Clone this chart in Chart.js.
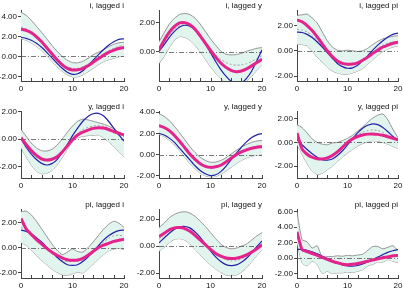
<!DOCTYPE html>
<html>
<head>
<meta charset="utf-8">
<script src="https://cdn.jsdelivr.net/npm/chart.js@4/dist/chart.umd.min.js"></script>
<style>
  html, body { margin: 0; padding: 0; background: #fff; overflow: hidden; }
  body { width: 403px; height: 295px; position: relative; }
  canvas { position: absolute; }
</style>
</head>
<body>
<script>
const LAGS = [0, 1, 2, 3, 4, 5, 6, 7, 8, 9, 10, 11, 12, 13, 14, 15, 16, 17, 18, 19, 20];

const TITLES = ['i, lagged i', 'i, lagged y', 'i, lagged pi',
                'y, lagged i', 'y, lagged y', 'y, lagged pi',
                'pi, lagged i', 'pi, lagged y', 'pi, lagged pi'];
const Y_MIN = [-2.47, -1.98, -2.39, -2.85, -2.2, -3.0, -2.4, -2.37, -2.57];
const Y_MAX = [4.63, 2.86, 3.23, 2.05, 4.1, 2.65, 3.07, 2.75, 6.35];

// thick magenta line
const MAGENTA = [
  [2.7, 2.6, 2.35, 1.95, 1.45, 0.85, 0.25, -0.35, -0.85, -1.2, -1.37, -1.35, -1.2, -0.95, -0.6, -0.25, 0.1, 0.4, 0.6, 0.78, 0.87],
  [0.15, 0.8, 1.35, 1.75, 1.98, 2.0, 1.85, 1.55, 1.1, 0.6, 0.1, -0.35, -0.75, -1.05, -1.25, -1.35, -1.3, -1.15, -0.95, -0.72, -0.5],
  [2.45, 2.3, 2.0, 1.6, 1.1, 0.55, 0.0, -0.45, -0.8, -1.0, -1.07, -1.05, -0.95, -0.75, -0.5, -0.2, 0.05, 0.3, 0.45, 0.6, 0.68],
  [0.1, -0.4, -0.85, -1.2, -1.45, -1.54, -1.48, -1.3, -0.95, -0.5, -0.05, 0.3, 0.5, 0.65, 0.78, 0.83, 0.8, 0.7, 0.55, 0.42, 0.3],
  [2.72, 2.55, 2.25, 1.8, 1.25, 0.65, 0.05, -0.45, -0.85, -1.1, -1.2, -1.15, -1.0, -0.7, -0.35, 0.0, 0.25, 0.45, 0.6, 0.7, 0.75],
  [0.8, -0.55, -1.0, -1.25, -1.38, -1.4, -1.3, -1.1, -0.8, -0.4, 0.0, 0.3, 0.5, 0.62, 0.7, 0.72, 0.68, 0.6, 0.48, 0.35, 0.23],
  [2.32, 1.5, 1.05, 0.65, 0.3, -0.05, -0.35, -0.6, -0.8, -0.95, -1.0, -0.98, -0.85, -0.6, -0.3, 0.0, 0.2, 0.35, 0.5, 0.6, 0.67],
  [0.7, 0.95, 1.2, 1.35, 1.37, 1.3, 1.1, 0.8, 0.45, 0.1, -0.25, -0.55, -0.75, -0.88, -0.92, -0.9, -0.8, -0.65, -0.45, -0.2, 0.08],
  [3.4, 1.1, 0.85, 0.6, 0.35, 0.1, -0.15, -0.4, -0.6, -0.78, -0.85, -0.8, -0.7, -0.55, -0.4, -0.25, -0.1, 0.05, 0.15, 0.3, 0.35]
];

// thin blue line
const BLUE = [
  [1.9, 1.8, 1.6, 1.3, 0.9, 0.4, -0.15, -0.7, -1.2, -1.6, -1.8, -1.75, -1.45, -0.95, -0.4, 0.15, 0.65, 1.1, 1.45, 1.7, 1.75],
  [0.05, 0.5, 1.0, 1.4, 1.7, 1.82, 1.75, 1.5, 1.1, 0.55, -0.05, -0.65, -1.2, -1.65, -2.0, -2.15, -2.1, -1.8, -1.3, -0.6, 0.15],
  [1.48, 1.45, 1.3, 1.05, 0.7, 0.3, -0.15, -0.6, -1.0, -1.25, -1.38, -1.35, -1.15, -0.8, -0.4, 0.05, 0.45, 0.8, 1.1, 1.3, 1.4],
  [0.0, -0.6, -1.1, -1.5, -1.78, -1.9, -1.8, -1.5, -1.0, -0.4, 0.25, 0.8, 1.3, 1.65, 1.85, 1.88, 1.7, 1.3, 0.8, 0.3, -0.15],
  [2.0, 1.85, 1.55, 1.15, 0.6, 0.05, -0.5, -1.05, -1.5, -1.8, -1.97, -1.9, -1.6, -1.1, -0.5, 0.1, 0.7, 1.2, 1.6, 1.85, 1.97],
  [0.23, -0.2, -0.6, -0.95, -1.25, -1.45, -1.5, -1.4, -1.1, -0.7, -0.2, 0.3, 0.8, 1.2, 1.45, 1.57, 1.5, 1.25, 0.9, 0.5, 0.15],
  [1.4, 1.3, 1.1, 0.8, 0.45, 0.05, -0.35, -0.75, -1.1, -1.35, -1.4, -1.35, -1.1, -0.75, -0.3, 0.15, 0.6, 0.95, 1.2, 1.35, 1.4],
  [0.25, 0.6, 0.95, 1.25, 1.42, 1.45, 1.35, 1.05, 0.65, 0.15, -0.35, -0.8, -1.15, -1.38, -1.45, -1.4, -1.2, -0.9, -0.5, -0.05, 0.38],
  [1.13, 1.13, 1.0, 0.8, 0.55, 0.25, -0.05, -0.35, -0.65, -0.88, -1.0, -1.05, -0.95, -0.75, -0.5, -0.2, 0.15, 0.45, 0.75, 0.95, 1.1]
];

// dashed median of the band
const MEDIAN = [
  [2.9, 2.75, 2.5, 2.1, 1.6, 1.0, 0.4, -0.2, -0.7, -1.05, -1.2, -1.2, -1.05, -0.8, -0.45, -0.1, 0.25, 0.55, 0.8, 1.0, 1.1],
  [0.0, 0.6, 1.15, 1.55, 1.8, 1.85, 1.75, 1.5, 1.1, 0.65, 0.2, -0.2, -0.5, -0.72, -0.85, -0.9, -0.88, -0.8, -0.65, -0.45, -0.25],
  [1.7, 1.65, 1.5, 1.2, 0.8, 0.35, -0.1, -0.5, -0.85, -1.05, -1.1, -1.05, -0.95, -0.7, -0.4, -0.1, 0.2, 0.45, 0.6, 0.7, 0.75],
  [0.05, -0.5, -1.0, -1.35, -1.55, -1.6, -1.5, -1.25, -0.9, -0.45, 0.0, 0.4, 0.7, 0.85, 0.95, 1.0, 0.95, 0.8, 0.6, 0.35, 0.15],
  [2.85, 2.65, 2.3, 1.85, 1.3, 0.7, 0.1, -0.4, -0.8, -1.05, -1.15, -1.1, -0.95, -0.65, -0.3, 0.05, 0.35, 0.55, 0.7, 0.8, 0.85],
  [0.6, -0.6, -1.1, -1.3, -1.4, -1.4, -1.3, -1.05, -0.75, -0.35, 0.05, 0.4, 0.65, 0.85, 1.0, 1.05, 1.0, 0.85, 0.6, 0.35, 0.15],
  [1.6, 1.4, 1.05, 0.7, 0.3, -0.1, -0.45, -0.75, -1.0, -1.1, -1.05, -1.1, -1.0, -0.7, -0.3, 0.1, 0.45, 0.75, 0.95, 1.0, 0.9],
  [0.5, 0.85, 1.15, 1.35, 1.45, 1.45, 1.3, 1.0, 0.6, 0.2, -0.2, -0.55, -0.85, -1.0, -1.1, -1.1, -0.95, -0.75, -0.45, -0.15, 0.2],
  [3.0, 0.9, 0.7, 0.5, 0.3, 0.0, -0.3, -0.5, -0.7, -0.85, -0.9, -0.85, -0.7, -0.55, -0.35, -0.2, 0.0, 0.15, 0.3, 0.4, 0.35]
];

// band upper / lower
const UPPER = [
  [4.4, 4.1, 3.6, 3.0, 2.4, 1.75, 1.1, 0.5, 0.0, -0.4, -0.63, -0.65, -0.5, -0.2, 0.15, 0.4, 0.65, 0.95, 1.2, 1.35, 1.4],
  [0.7, 1.3, 1.9, 2.3, 2.55, 2.62, 2.55, 2.3, 1.9, 1.4, 0.9, 0.45, 0.05, -0.15, -0.2, -0.18, -0.1, 0.05, 0.15, 0.25, 0.3],
  [2.8, 2.85, 2.9, 2.6, 2.2, 1.5, 0.8, 0.3, 0.05, 0.0, 0.05, 0.0, -0.05, 0.0, 0.2, 0.5, 0.75, 0.95, 1.05, 1.15, 1.2],
  [0.7, 0.2, -0.3, -0.65, -0.85, -0.88, -0.75, -0.45, 0.0, 0.5, 0.95, 1.3, 1.45, 1.4, 1.3, 1.2, 1.1, 0.95, 0.75, 0.5, 0.3],
  [3.85, 3.6, 3.2, 2.65, 2.05, 1.4, 0.75, 0.2, -0.25, -0.55, -0.72, -0.7, -0.55, -0.3, 0.05, 0.4, 0.7, 0.95, 1.15, 1.28, 1.34],
  [1.5, 1.25, 0.8, 0.3, 0.0, -0.15, -0.2, -0.05, 0.0, 0.15, 0.35, 0.6, 0.95, 1.3, 1.7, 2.05, 2.3, 2.4, 1.9, 1.1, 0.4],
  [2.85, 2.9, 2.6, 2.1, 1.5, 0.9, 0.3, -0.2, -0.55, -0.35, -0.1, -0.3, -0.35, 0.0, 0.45, 0.95, 1.45, 1.85, 2.1, 1.95, 1.6],
  [1.37, 1.7, 2.1, 2.35, 2.5, 2.55, 2.45, 2.2, 1.85, 1.45, 1.0, 0.55, 0.15, -0.1, -0.2, -0.15, 0.0, 0.15, 0.45, 0.75, 1.0],
  [6.0, 2.4, 2.1, 1.3, 1.6, 0.1, 0.2, 0.2, 0.3, 0.25, 0.35, 0.3, 0.4, 0.5, 1.0, 1.5, 1.5, 1.2, 1.4, 1.6, 1.0]
];
const LOWER = [
  [1.75, 1.6, 1.35, 1.0, 0.55, 0.05, -0.5, -1.05, -1.5, -1.85, -2.05, -2.05, -1.85, -1.55, -1.2, -0.85, -0.55, -0.35, -0.2, -0.05, 0.0],
  [-0.8, -0.3, 0.3, 0.8, 1.05, 1.0, 0.8, 0.45, 0.0, -0.5, -1.0, -1.45, -1.8, -2.1, -2.3, -2.35, -2.25, -2.0, -1.65, -1.25, -0.9],
  [0.5, 0.5, 0.4, 0.0, -0.5, -0.9, -1.3, -1.6, -1.75, -1.85, -1.85, -1.75, -1.6, -1.4, -1.05, -0.7, -0.35, -0.05, 0.15, 0.3, 0.4],
  [-0.63, -1.3, -1.9, -2.35, -2.54, -2.5, -2.3, -1.9, -1.35, -0.75, -0.2, 0.1, 0.2, 0.25, 0.28, 0.3, 0.1, -0.2, -0.55, -0.95, -1.3],
  [1.9, 1.7, 1.35, 0.9, 0.35, -0.25, -0.85, -1.35, -1.75, -2.0, -2.1, -2.05, -1.85, -1.55, -1.2, -0.85, -0.55, -0.3, -0.15, -0.05, 0.0],
  [-0.2, -1.0, -1.8, -2.4, -2.7, -2.6, -2.3, -2.0, -1.6, -1.25, -0.9, -0.6, -0.3, -0.1, 0.05, 0.15, 0.1, 0.0, -0.15, -0.35, -0.5],
  [0.4, 0.2, -0.2, -0.6, -1.0, -1.35, -1.7, -1.95, -2.15, -2.2, -2.05, -1.95, -2.0, -1.7, -1.3, -0.9, -0.55, -0.25, -0.1, -0.05, -0.13],
  [-0.38, -0.1, 0.25, 0.5, 0.55, 0.45, 0.15, -0.25, -0.65, -1.05, -1.4, -1.7, -1.95, -2.15, -2.2, -2.15, -1.95, -1.6, -1.15, -0.7, -0.25],
  [2.0, -0.6, -1.0, -0.4, -0.8, -2.0, -1.7, -2.0, -1.9, -1.9, -1.8, -1.85, -1.7, -1.5, -1.0, -0.8, -0.5, -0.5, -0.2, -0.4, -0.6]
];

// plot-area edges of each cell (px)
const COL_L = [21, 159, 297], COL_R = [124, 262, 398];
const ROW_T = [10, 111, 209], ROW_B = [81, 178, 278];
const Y_AXIS_W = 22, TOP_PAD = 10, X_AXIS_H = 14, RIGHT_PAD = 8;

Chart.defaults.font.family = '"Liberation Sans", Arial, sans-serif';
Chart.defaults.font.size = 8;
Chart.defaults.color = '#111';

const decor = {
  id: 'decor',
  afterDatasetDraw(chart, args) {
    if (args.index !== 3) return;
    // dash-dot zero line, above the band fill
    const {ctx, chartArea: a, scales: {y}} = chart;
    const py = Math.round(y.getPixelForValue(0)) + 0.5;
    ctx.save();
    ctx.strokeStyle = '#555';
    ctx.lineWidth = 0.8;
    ctx.setLineDash([5, 2, 1, 2]);
    ctx.beginPath();
    ctx.moveTo(a.left, py);
    ctx.lineTo(a.right, py);
    ctx.stroke();
    ctx.restore();
  },
  afterDraw(chart) {
    const {ctx, chartArea: a, scales: {x}} = chart;
    ctx.save();
    // minor ticks on the bottom axis, pointing inward
    ctx.strokeStyle = '#444';
    ctx.lineWidth = 1;
    ctx.beginPath();
    for (let v = 0; v <= 20; v += 2) {
      const px = Math.round(x.getPixelForValue(v)) + 0.5;
      ctx.moveTo(px, a.bottom);
      ctx.lineTo(px, a.bottom - 3);
    }
    ctx.stroke();
    // title, top right
    ctx.fillStyle = '#111';
    ctx.font = '8px "Liberation Sans", Arial, sans-serif';
    ctx.textAlign = 'right';
    ctx.textBaseline = 'alphabetic';
    ctx.fillText(chart.options.plugins.decor.title, a.right, a.top - 2);
    ctx.restore();
  }
};

for (let p = 0; p < 9; p++) {
  const c = p % 3, r = Math.floor(p / 3);
  const w = COL_R[c] - COL_L[c] + Y_AXIS_W + RIGHT_PAD;
  const h = ROW_B[r] - ROW_T[r] + TOP_PAD + X_AXIS_H;
  const cv = document.createElement('canvas');
  cv.width = w; cv.height = h;
  cv.style.left = (COL_L[c] - Y_AXIS_W) + 'px';
  cv.style.top = (ROW_T[r] - TOP_PAD) + 'px';
  cv.style.width = w + 'px'; cv.style.height = h + 'px';
  document.body.appendChild(cv);

  new Chart(cv, {
    type: 'line',
    data: {
      labels: LAGS,
      datasets: [
        { data: MAGENTA[p], borderColor: '#e4238c', borderWidth: 3 },
        { data: BLUE[p], borderColor: '#2222a8', borderWidth: 1.2 },
        { data: MEDIAN[p], borderColor: '#8a8a8a', borderWidth: 0.8, borderDash: [2, 2] },
        { data: UPPER[p], borderColor: '#7a7a7a', borderWidth: 0.8, fill: '+1', backgroundColor: '#e2f4ee' },
        { data: LOWER[p], borderColor: '#7a7a7a', borderWidth: 0.8 }
      ]
    },
    options: {
      responsive: false,
      animation: false,
      devicePixelRatio: 1,
      layout: { padding: { top: TOP_PAD, right: RIGHT_PAD, left: 0, bottom: 0 } },
      elements: { point: { radius: 0 }, line: { tension: 0.2 } },
      plugins: {
        legend: { display: false },
        tooltip: { enabled: false },
        decor: { title: TITLES[p] }
      },
      scales: {
        x: {
          type: 'linear', min: 0, max: 20,
          ticks: { stepSize: 10, padding: 3, maxRotation: 0 },
          grid: { display: false, drawTicks: false },
          border: { display: true, color: '#444', width: 1 },
          afterFit: s => { s.height = X_AXIS_H; }
        },
        y: {
          min: Y_MIN[p], max: Y_MAX[p],
          ticks: { stepSize: 2, includeBounds: false, autoSkip: false, padding: 1,
                   callback: v => v.toFixed(2) },
          grid: { drawOnChartArea: false, tickLength: 3, color: '#444' },
          border: { display: true, color: '#444', width: 1 },
          afterFit: s => { s.width = Y_AXIS_W; }
        }
      }
    },
    plugins: [decor]
  });
}
</script>
</body>
</html>
